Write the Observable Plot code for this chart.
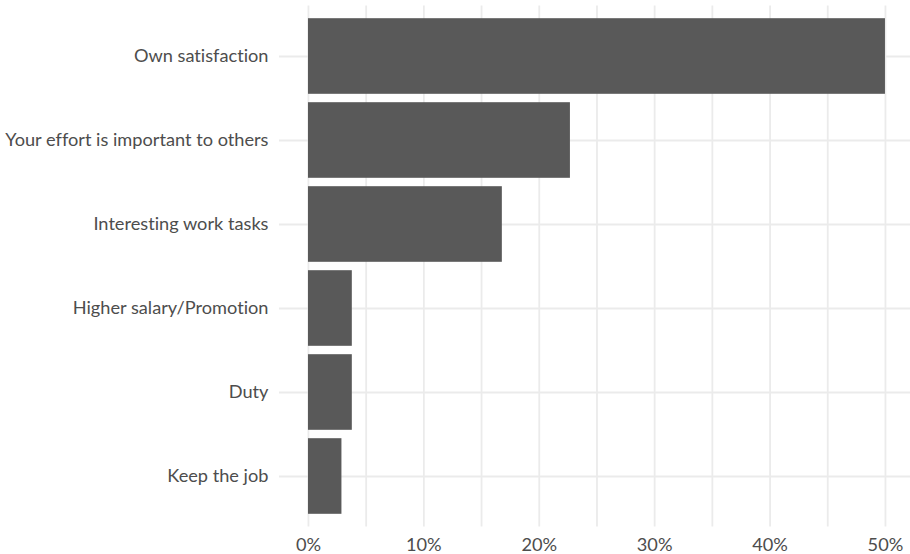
<!DOCTYPE html>
<html>
<head>
<meta charset="utf-8">
<script src="https://cdn.jsdelivr.net/npm/d3@7"></script>
<script src="https://cdn.jsdelivr.net/npm/@observablehq/plot@0.6"></script>
<style>
  html, body { margin: 0; padding: 0; background: #ffffff; }
  #chart svg { display: block; font-variant-ligatures: none; font-feature-settings: "liga" 0, "clig" 0; }
</style>
</head>
<body>
<div id="chart"></div>
<script>
const categories = [
  "Own satisfaction",
  "Your effort is important to others",
  "Interesting work tasks",
  "Higher salary/Promotion",
  "Duty",
  "Keep the job"
];
const percents = [50.0, 22.7, 16.8, 3.8, 3.8, 2.9];
const majorTicks = [0, 10, 20, 30, 40, 50];
const gridTicks = [0, 5, 10, 15, 20, 25, 30, 35, 40, 45, 50];

const data = categories.map((c, i) => ({category: c, value: percents[i]}));

const chart = Plot.plot({
  width: 910,
  height: 554,
  marginLeft: 279,
  marginRight: 0,
  marginTop: 5.6,
  marginBottom: 27.6,
  style: {fontFamily: "Lato, sans-serif", fontSize: "18.2px", color: "#4d4d4d", background: "#ffffff"},
  x: {domain: [-2.51, 52.17], label: null},
  y: {domain: categories, label: null, paddingInner: 0.1, paddingOuter: 0.15, round: false},
  marks: [
    Plot.gridX(gridTicks, {stroke: "#ebebeb", strokeOpacity: 1, strokeWidth: 1.8}),
    Plot.gridY(categories, {stroke: "#ebebeb", strokeOpacity: 1, strokeWidth: 1.8}),
    Plot.barX(data, {x1: 0, x2: "value", y: "category", fill: "#595959"}),
    Plot.axisX(majorTicks, {tickSize: 0, tickPadding: 11, tickFormat: d => d + "%", fill: "#4d4d4d", fontSize: 18.2}),
    Plot.axisY(categories, {tickSize: 0, tickPadding: 11, fill: "#4d4d4d", fontSize: 18.2})
  ]
});
document.getElementById("chart").appendChild(chart);
</script>
</body>
</html>
